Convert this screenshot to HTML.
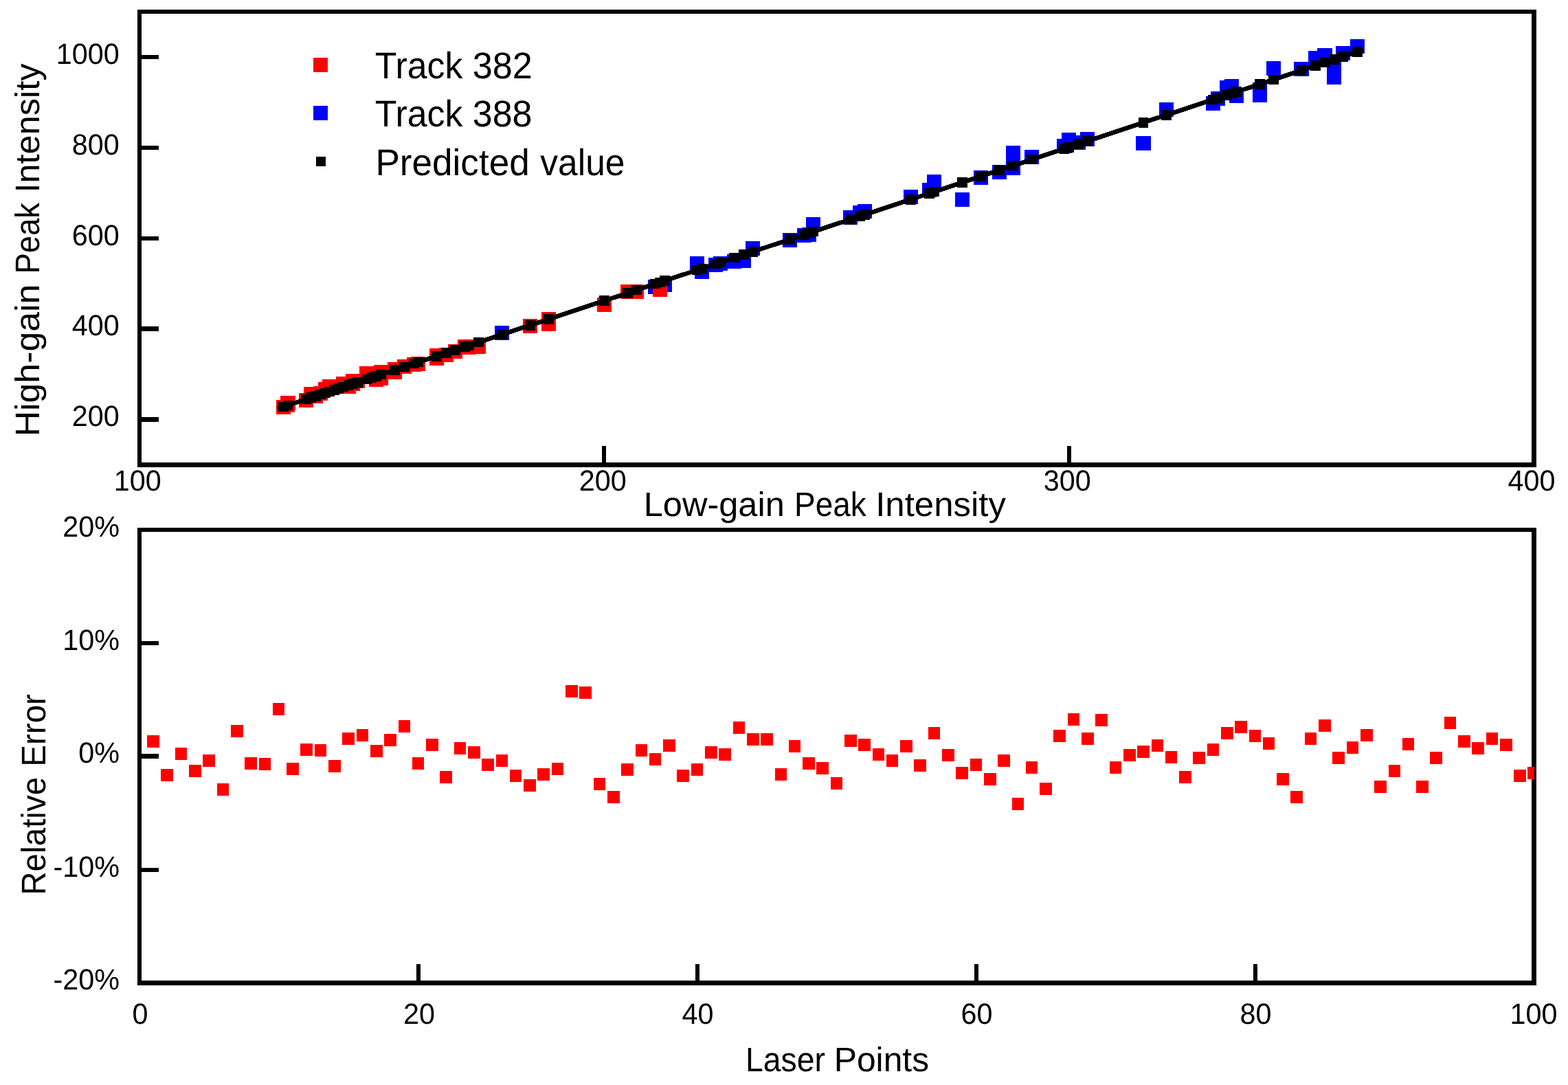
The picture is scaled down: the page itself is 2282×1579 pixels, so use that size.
<!DOCTYPE html>
<html lang="en"><head><meta charset="utf-8"><title>Low-gain vs High-gain Peak Intensity</title>
<style>html,body{margin:0;padding:0;background:#fff}body{width:2282px;height:1579px;overflow:hidden}svg{display:block}text{font-family:"Liberation Sans",sans-serif;fill:#000;text-rendering:geometricPrecision}</style>
</head><body>
<svg xmlns="http://www.w3.org/2000/svg" width="2282" height="1579" viewBox="0 0 2282 1579">
<rect x="0" y="0" width="2282" height="1579" fill="#fff"/>
<g id="top-plot">
<g shape-rendering="crispEdges" fill="#0000ff">
<rect x="720" y="474" width="21" height="21"/>
<rect x="943" y="407" width="21" height="21"/>
<rect x="957" y="404" width="21" height="21"/>
<rect x="1004" y="373" width="21" height="21"/>
<rect x="1011" y="385" width="21" height="21"/>
<rect x="1031" y="375" width="21" height="21"/>
<rect x="1038" y="373" width="21" height="21"/>
<rect x="1058" y="370" width="21" height="21"/>
<rect x="1072" y="369" width="21" height="21"/>
<rect x="1085" y="351" width="21" height="21"/>
<rect x="1139" y="339" width="21" height="21"/>
<rect x="1160" y="332" width="21" height="21"/>
<rect x="1167" y="331" width="21" height="21"/>
<rect x="1173" y="316" width="21" height="21"/>
<rect x="1227" y="306" width="21" height="21"/>
<rect x="1241" y="299" width="21" height="21"/>
<rect x="1248" y="297" width="21" height="21"/>
<rect x="1315" y="276" width="21" height="21"/>
<rect x="1342" y="266" width="21" height="21"/>
<rect x="1349" y="254" width="21" height="21"/>
<rect x="1390" y="280" width="21" height="21"/>
<rect x="1417" y="248" width="21" height="21"/>
<rect x="1444" y="240" width="21" height="21"/>
<rect x="1464" y="212" width="21" height="22"/>
<rect x="1464" y="234" width="21" height="21"/>
<rect x="1491" y="218" width="21" height="21"/>
<rect x="1538" y="202" width="22" height="21"/>
<rect x="1545" y="193" width="21" height="21"/>
<rect x="1559" y="197" width="21" height="21"/>
<rect x="1572" y="192" width="21" height="21"/>
<rect x="1653" y="198" width="22" height="21"/>
<rect x="1687" y="149" width="21" height="21"/>
<rect x="1755" y="140" width="21" height="21"/>
<rect x="1762" y="133" width="21" height="21"/>
<rect x="1775" y="117" width="21" height="21"/>
<rect x="1782" y="115" width="21" height="21"/>
<rect x="1789" y="129" width="21" height="21"/>
<rect x="1823" y="120" width="21" height="21"/>
<rect x="1823" y="128" width="21" height="21"/>
<rect x="1843" y="89" width="21" height="21"/>
<rect x="1883" y="90" width="22" height="21"/>
<rect x="1904" y="74" width="21" height="21"/>
<rect x="1917" y="70" width="22" height="21"/>
<rect x="1931" y="90" width="21" height="21"/>
<rect x="1931" y="102" width="21" height="21"/>
<rect x="1944" y="67" width="21" height="21"/>
<rect x="1965" y="57" width="21" height="21"/>
</g>
<g shape-rendering="crispEdges" fill="#ff0000">
<rect x="402" y="582" width="21" height="21"/>
<rect x="408" y="576" width="22" height="21"/>
<rect x="408" y="579" width="21" height="21"/>
<rect x="435" y="572" width="21" height="21"/>
<rect x="442" y="563" width="21" height="21"/>
<rect x="449" y="566" width="21" height="21"/>
<rect x="456" y="562" width="21" height="21"/>
<rect x="463" y="556" width="21" height="21"/>
<rect x="469" y="552" width="21" height="21"/>
<rect x="489" y="548" width="21" height="21"/>
<rect x="497" y="552" width="21" height="21"/>
<rect x="503" y="544" width="21" height="21"/>
<rect x="503" y="548" width="21" height="21"/>
<rect x="510" y="544" width="21" height="21"/>
<rect x="523" y="533" width="21" height="21"/>
<rect x="537" y="542" width="21" height="21"/>
<rect x="544" y="531" width="21" height="21"/>
<rect x="544" y="540" width="21" height="21"/>
<rect x="564" y="527" width="21" height="21"/>
<rect x="564" y="531" width="21" height="21"/>
<rect x="578" y="523" width="21" height="21"/>
<rect x="592" y="520" width="21" height="21"/>
<rect x="598" y="519" width="21" height="21"/>
<rect x="625" y="507" width="21" height="21"/>
<rect x="625" y="511" width="21" height="21"/>
<rect x="639" y="506" width="21" height="21"/>
<rect x="652" y="501" width="21" height="21"/>
<rect x="666" y="494" width="21" height="21"/>
<rect x="672" y="495" width="21" height="21"/>
<rect x="686" y="494" width="21" height="21"/>
<rect x="761" y="464" width="21" height="21"/>
<rect x="788" y="454" width="21" height="21"/>
<rect x="788" y="461" width="21" height="21"/>
<rect x="869" y="433" width="21" height="21"/>
<rect x="903" y="414" width="21" height="21"/>
<rect x="916" y="414" width="21" height="21"/>
<rect x="950" y="411" width="21" height="21"/>
</g>
<line x1="404" y1="594.78" x2="1984" y2="72.69" stroke="#000" stroke-width="6.6" shape-rendering="crispEdges"/>
<g shape-rendering="crispEdges" fill="#000">
<rect x="405.15" y="584.75" width="14.5" height="14.5"/>
<rect x="411.75" y="582.57" width="14.5" height="14.5"/>
<rect x="438.35" y="573.78" width="14.5" height="14.5"/>
<rect x="445.35" y="571.47" width="14.5" height="14.5"/>
<rect x="452.15" y="569.22" width="14.5" height="14.5"/>
<rect x="459.35" y="566.84" width="14.5" height="14.5"/>
<rect x="466.25" y="564.56" width="14.5" height="14.5"/>
<rect x="472.35" y="562.54" width="14.5" height="14.5"/>
<rect x="479.15" y="560.3" width="14.5" height="14.5"/>
<rect x="485.95" y="558.05" width="14.5" height="14.5"/>
<rect x="492.45" y="555.9" width="14.5" height="14.5"/>
<rect x="499.95" y="553.42" width="14.5" height="14.5"/>
<rect x="506.25" y="551.34" width="14.5" height="14.5"/>
<rect x="513.35" y="549" width="14.5" height="14.5"/>
<rect x="526.15" y="544.77" width="14.5" height="14.5"/>
<rect x="533.65" y="542.29" width="14.5" height="14.5"/>
<rect x="540.15" y="540.14" width="14.5" height="14.5"/>
<rect x="547.25" y="537.8" width="14.5" height="14.5"/>
<rect x="547.35" y="537.76" width="14.5" height="14.5"/>
<rect x="567.15" y="531.22" width="14.5" height="14.5"/>
<rect x="567.35" y="531.15" width="14.5" height="14.5"/>
<rect x="581.15" y="526.59" width="14.5" height="14.5"/>
<rect x="595.25" y="521.93" width="14.5" height="14.5"/>
<rect x="601.35" y="519.92" width="14.5" height="14.5"/>
<rect x="628.15" y="511.06" width="14.5" height="14.5"/>
<rect x="642.25" y="506.4" width="14.5" height="14.5"/>
<rect x="655.35" y="502.08" width="14.5" height="14.5"/>
<rect x="669.35" y="497.45" width="14.5" height="14.5"/>
<rect x="675.15" y="495.53" width="14.5" height="14.5"/>
<rect x="689.15" y="490.91" width="14.5" height="14.5"/>
<rect x="723.25" y="479.64" width="14.5" height="14.5"/>
<rect x="764.15" y="466.12" width="14.5" height="14.5"/>
<rect x="791.25" y="457.17" width="14.5" height="14.5"/>
<rect x="872.25" y="430.4" width="14.5" height="14.5"/>
<rect x="906.25" y="419.17" width="14.5" height="14.5"/>
<rect x="919.15" y="414.91" width="14.5" height="14.5"/>
<rect x="946.15" y="405.99" width="14.5" height="14.5"/>
<rect x="953.25" y="403.64" width="14.5" height="14.5"/>
<rect x="960.05" y="401.39" width="14.5" height="14.5"/>
<rect x="1007.35" y="385.76" width="14.5" height="14.5"/>
<rect x="1014.15" y="383.52" width="14.5" height="14.5"/>
<rect x="1034.35" y="376.84" width="14.5" height="14.5"/>
<rect x="1041.35" y="374.53" width="14.5" height="14.5"/>
<rect x="1061.35" y="367.92" width="14.5" height="14.5"/>
<rect x="1075.25" y="363.33" width="14.5" height="14.5"/>
<rect x="1088.25" y="359.03" width="14.5" height="14.5"/>
<rect x="1142.25" y="341.19" width="14.5" height="14.5"/>
<rect x="1163.25" y="334.25" width="14.5" height="14.5"/>
<rect x="1170.25" y="331.94" width="14.5" height="14.5"/>
<rect x="1176.25" y="329.95" width="14.5" height="14.5"/>
<rect x="1230.25" y="312.11" width="14.5" height="14.5"/>
<rect x="1244.35" y="307.45" width="14.5" height="14.5"/>
<rect x="1251.35" y="305.14" width="14.5" height="14.5"/>
<rect x="1318.25" y="283.03" width="14.5" height="14.5"/>
<rect x="1345.25" y="274.11" width="14.5" height="14.5"/>
<rect x="1352.25" y="271.8" width="14.5" height="14.5"/>
<rect x="1393.25" y="258.25" width="14.5" height="14.5"/>
<rect x="1420.35" y="249.29" width="14.5" height="14.5"/>
<rect x="1447.35" y="240.37" width="14.5" height="14.5"/>
<rect x="1467.25" y="233.8" width="14.5" height="14.5"/>
<rect x="1494.35" y="224.84" width="14.5" height="14.5"/>
<rect x="1541.75" y="209.18" width="14.5" height="14.5"/>
<rect x="1548.25" y="207.03" width="14.5" height="14.5"/>
<rect x="1562.25" y="202.41" width="14.5" height="14.5"/>
<rect x="1575.25" y="198.11" width="14.5" height="14.5"/>
<rect x="1656.75" y="171.18" width="14.5" height="14.5"/>
<rect x="1690.25" y="160.11" width="14.5" height="14.5"/>
<rect x="1758.25" y="137.64" width="14.5" height="14.5"/>
<rect x="1765.15" y="135.36" width="14.5" height="14.5"/>
<rect x="1778.25" y="131.03" width="14.5" height="14.5"/>
<rect x="1785.25" y="128.72" width="14.5" height="14.5"/>
<rect x="1792.25" y="126.41" width="14.5" height="14.5"/>
<rect x="1826.25" y="115.17" width="14.5" height="14.5"/>
<rect x="1846.25" y="108.56" width="14.5" height="14.5"/>
<rect x="1886.75" y="95.18" width="14.5" height="14.5"/>
<rect x="1907.15" y="88.44" width="14.5" height="14.5"/>
<rect x="1920.75" y="83.95" width="14.5" height="14.5"/>
<rect x="1934.25" y="79.48" width="14.5" height="14.5"/>
<rect x="1947.25" y="75.19" width="14.5" height="14.5"/>
<rect x="1968.25" y="68.25" width="14.5" height="14.5"/>
</g>
<g shape-rendering="crispEdges">
<rect x="200" y="14" width="2036" height="6" fill="#000"/>
<rect x="200" y="673" width="2036" height="7" fill="#000"/>
<rect x="200" y="14" width="6" height="666" fill="#000"/>
<rect x="2229" y="14" width="7" height="666" fill="#000"/>
<rect x="206" y="80" width="25" height="6" fill="#000"/>
<rect x="206" y="212" width="25" height="6" fill="#000"/>
<rect x="206" y="344" width="25" height="6" fill="#000"/>
<rect x="206" y="475" width="25" height="7" fill="#000"/>
<rect x="206" y="607" width="25" height="7" fill="#000"/>
<rect x="876" y="649" width="6" height="24" fill="#000"/>
<rect x="1553" y="649" width="6" height="24" fill="#000"/>
</g>
<rect x="456" y="84" width="21" height="21" fill="#ff0000"/>
<rect x="456" y="154" width="21" height="21" fill="#0000ff"/>
<rect x="460" y="228" width="14" height="14" fill="#000"/>
</g>
<g id="top-text">
<text y="113.9" font-size="54.2"><tspan x="545.66" textLength="127.69" lengthAdjust="spacingAndGlyphs">Track</tspan> <tspan x="687.72" textLength="87.12" lengthAdjust="spacingAndGlyphs">382</tspan></text>
<text y="184" font-size="54.2"><tspan x="545.66" textLength="127.69" lengthAdjust="spacingAndGlyphs">Track</tspan> <tspan x="687.72" textLength="86.79" lengthAdjust="spacingAndGlyphs">388</tspan></text>
<text y="254.6" font-size="54.2"><tspan x="546.45" textLength="224.28" lengthAdjust="spacingAndGlyphs">Predicted</tspan> <tspan x="786.29" textLength="123.21" lengthAdjust="spacingAndGlyphs">value</tspan></text>
<text transform="translate(81.8 92.6) scale(0.9730 1)" font-size="42.5">1000</text>
<text transform="translate(104.8 224.6) scale(0.9730 1)" font-size="42.5">800</text>
<text transform="translate(104.8 356.6) scale(0.9730 1)" font-size="42.5">600</text>
<text transform="translate(104.8 488.1) scale(0.9730 1)" font-size="42.5">400</text>
<text transform="translate(104.8 620.1) scale(0.9730 1)" font-size="42.5">200</text>
<text transform="translate(165.7 713.6) scale(0.9730 1)" font-size="42.5">100</text>
<text transform="translate(842.7 713.6) scale(0.9730 1)" font-size="42.5">200</text>
<text transform="translate(1518.8 713.6) scale(0.9730 1)" font-size="42.5">300</text>
<text transform="translate(2194.6 713.6) scale(0.9730 1)" font-size="42.5">400</text>
<text y="750.9" font-size="49.6"><tspan x="936.65" textLength="205.19" lengthAdjust="spacingAndGlyphs">Low-gain</tspan> <tspan x="1156.04" textLength="104.63" lengthAdjust="spacingAndGlyphs">Peak</tspan> <tspan x="1274.21" textLength="189.7" lengthAdjust="spacingAndGlyphs">Intensity</tspan></text>
<text transform="translate(57.2 631.1) rotate(-90)" font-size="49.6"><tspan x="-4.25" textLength="221.67" lengthAdjust="spacingAndGlyphs">High-gain</tspan> <tspan x="232.57" textLength="103.6" lengthAdjust="spacingAndGlyphs">Peak</tspan> <tspan x="350.55" textLength="188.05" lengthAdjust="spacingAndGlyphs">Intensity</tspan></text>
</g>
<g id="bottom-plot">
<g shape-rendering="crispEdges">
<rect x="200" y="768" width="2036" height="6" fill="#000"/>
<rect x="200" y="1427" width="2036" height="7" fill="#000"/>
<rect x="200" y="768" width="6" height="666" fill="#000"/>
<rect x="2229" y="768" width="7" height="666" fill="#000"/>
<rect x="206" y="933" width="25" height="6" fill="#000"/>
<rect x="206" y="1097" width="25" height="7" fill="#000"/>
<rect x="206" y="1263" width="25" height="6" fill="#000"/>
<rect x="606" y="1403" width="6" height="24" fill="#000"/>
<rect x="1012" y="1403" width="6" height="24" fill="#000"/>
<rect x="1418" y="1403" width="6" height="24" fill="#000"/>
<rect x="1824" y="1403" width="6" height="24" fill="#000"/>
</g>
<g shape-rendering="crispEdges" fill="#ff0000">
<rect x="214.2" y="1070" width="17.6" height="17.6"/>
<rect x="234.49" y="1119" width="17.6" height="17.6"/>
<rect x="254.79" y="1088" width="17.6" height="17.6"/>
<rect x="275.08" y="1113" width="17.6" height="17.6"/>
<rect x="295.38" y="1098" width="17.6" height="17.6"/>
<rect x="315.68" y="1140" width="17.6" height="17.6"/>
<rect x="335.97" y="1055" width="17.6" height="17.6"/>
<rect x="356.27" y="1102" width="17.6" height="17.6"/>
<rect x="376.56" y="1103" width="17.6" height="17.6"/>
<rect x="396.86" y="1023" width="17.6" height="17.6"/>
<rect x="417.16" y="1110" width="17.6" height="17.6"/>
<rect x="437.45" y="1082" width="17.6" height="17.6"/>
<rect x="457.75" y="1083" width="17.6" height="17.6"/>
<rect x="478.04" y="1106" width="17.6" height="17.6"/>
<rect x="498.34" y="1066" width="17.6" height="17.6"/>
<rect x="518.64" y="1061" width="17.6" height="17.6"/>
<rect x="538.93" y="1084" width="17.6" height="17.6"/>
<rect x="559.23" y="1068" width="17.6" height="17.6"/>
<rect x="579.52" y="1048" width="17.6" height="17.6"/>
<rect x="599.82" y="1102" width="17.6" height="17.6"/>
<rect x="620.12" y="1075" width="17.6" height="17.6"/>
<rect x="640.41" y="1122" width="17.6" height="17.6"/>
<rect x="660.71" y="1080" width="17.6" height="17.6"/>
<rect x="681" y="1086" width="17.6" height="17.6"/>
<rect x="701.3" y="1104" width="17.6" height="17.6"/>
<rect x="721.6" y="1098" width="17.6" height="17.6"/>
<rect x="741.89" y="1120" width="17.6" height="17.6"/>
<rect x="762.19" y="1134" width="17.6" height="17.6"/>
<rect x="782.48" y="1118" width="17.6" height="17.6"/>
<rect x="802.78" y="1110" width="17.6" height="17.6"/>
<rect x="823.08" y="997" width="17.6" height="17.6"/>
<rect x="843.37" y="999" width="17.6" height="17.6"/>
<rect x="863.67" y="1132" width="17.6" height="17.6"/>
<rect x="883.96" y="1151" width="17.6" height="17.6"/>
<rect x="904.26" y="1111" width="17.6" height="17.6"/>
<rect x="924.56" y="1083" width="17.6" height="17.6"/>
<rect x="944.85" y="1096" width="17.6" height="17.6"/>
<rect x="965.15" y="1076" width="17.6" height="17.6"/>
<rect x="985.44" y="1120" width="17.6" height="17.6"/>
<rect x="1005.74" y="1111" width="17.6" height="17.6"/>
<rect x="1026.04" y="1086" width="17.6" height="17.6"/>
<rect x="1046.33" y="1089" width="17.6" height="17.6"/>
<rect x="1066.63" y="1050" width="17.6" height="17.6"/>
<rect x="1086.92" y="1067" width="17.6" height="17.6"/>
<rect x="1107.22" y="1067" width="17.6" height="17.6"/>
<rect x="1127.52" y="1118" width="17.6" height="17.6"/>
<rect x="1147.81" y="1077" width="17.6" height="17.6"/>
<rect x="1168.11" y="1102" width="17.6" height="17.6"/>
<rect x="1188.4" y="1109" width="17.6" height="17.6"/>
<rect x="1208.7" y="1131" width="17.6" height="17.6"/>
<rect x="1229" y="1069" width="17.6" height="17.6"/>
<rect x="1249.29" y="1075" width="17.6" height="17.6"/>
<rect x="1269.59" y="1089" width="17.6" height="17.6"/>
<rect x="1289.88" y="1098" width="17.6" height="17.6"/>
<rect x="1310.18" y="1077" width="17.6" height="17.6"/>
<rect x="1330.48" y="1105" width="17.6" height="17.6"/>
<rect x="1350.77" y="1058" width="17.6" height="17.6"/>
<rect x="1371.07" y="1090" width="17.6" height="17.6"/>
<rect x="1391.36" y="1116" width="17.6" height="17.6"/>
<rect x="1411.66" y="1104" width="17.6" height="17.6"/>
<rect x="1431.96" y="1125" width="17.6" height="17.6"/>
<rect x="1452.25" y="1098" width="17.6" height="17.6"/>
<rect x="1472.55" y="1161" width="17.6" height="17.6"/>
<rect x="1492.84" y="1108" width="17.6" height="17.6"/>
<rect x="1513.14" y="1139" width="17.6" height="17.6"/>
<rect x="1533.44" y="1062" width="17.6" height="17.6"/>
<rect x="1553.73" y="1038" width="17.6" height="17.6"/>
<rect x="1574.03" y="1066" width="17.6" height="17.6"/>
<rect x="1594.32" y="1039" width="17.6" height="17.6"/>
<rect x="1614.62" y="1108" width="17.6" height="17.6"/>
<rect x="1634.92" y="1090" width="17.6" height="17.6"/>
<rect x="1655.21" y="1085" width="17.6" height="17.6"/>
<rect x="1675.51" y="1076" width="17.6" height="17.6"/>
<rect x="1695.8" y="1093" width="17.6" height="17.6"/>
<rect x="1716.1" y="1122" width="17.6" height="17.6"/>
<rect x="1736.4" y="1094" width="17.6" height="17.6"/>
<rect x="1756.69" y="1082" width="17.6" height="17.6"/>
<rect x="1776.99" y="1058" width="17.6" height="17.6"/>
<rect x="1797.28" y="1049" width="17.6" height="17.6"/>
<rect x="1817.58" y="1062" width="17.6" height="17.6"/>
<rect x="1837.88" y="1073" width="17.6" height="17.6"/>
<rect x="1858.17" y="1125" width="17.6" height="17.6"/>
<rect x="1878.47" y="1151" width="17.6" height="17.6"/>
<rect x="1898.76" y="1066" width="17.6" height="17.6"/>
<rect x="1919.06" y="1047" width="17.6" height="17.6"/>
<rect x="1939.36" y="1094" width="17.6" height="17.6"/>
<rect x="1959.65" y="1079" width="17.6" height="17.6"/>
<rect x="1979.95" y="1061" width="17.6" height="17.6"/>
<rect x="2000.24" y="1136" width="17.6" height="17.6"/>
<rect x="2020.54" y="1113" width="17.6" height="17.6"/>
<rect x="2040.84" y="1074" width="17.6" height="17.6"/>
<rect x="2061.13" y="1136" width="17.6" height="17.6"/>
<rect x="2081.43" y="1094" width="17.6" height="17.6"/>
<rect x="2101.72" y="1043" width="17.6" height="17.6"/>
<rect x="2122.02" y="1070" width="17.6" height="17.6"/>
<rect x="2142.32" y="1080" width="17.6" height="17.6"/>
<rect x="2162.61" y="1066" width="17.6" height="17.6"/>
<rect x="2182.91" y="1075" width="17.6" height="17.6"/>
<rect x="2203.2" y="1120" width="17.6" height="17.6"/>
<rect x="2223" y="1116" width="10" height="17.6"/>
</g>
</g>
<g id="bottom-text">
<text transform="translate(91.2 780.6) scale(0.9730 1)" font-size="42.5">20%</text>
<text transform="translate(91.2 945.6) scale(0.9730 1)" font-size="42.5">10%</text>
<text transform="translate(114.19 1110.1) scale(0.9730 1)" font-size="42.5">0%</text>
<text transform="translate(77.39 1275.6) scale(0.9730 1)" font-size="42.5">-10%</text>
<text transform="translate(77.39 1440.1) scale(0.9730 1)" font-size="42.5">-20%</text>
<text transform="translate(192.48 1489.6) scale(0.9730 1)" font-size="42.5">0</text>
<text transform="translate(586.99 1489.6) scale(0.9730 1)" font-size="42.5">20</text>
<text transform="translate(992.59 1489.6) scale(0.9730 1)" font-size="42.5">40</text>
<text transform="translate(1398.59 1489.6) scale(0.9730 1)" font-size="42.5">60</text>
<text transform="translate(1804.59 1489.6) scale(0.9730 1)" font-size="42.5">80</text>
<text transform="translate(2197.6 1489.6) scale(0.9730 1)" font-size="42.5">100</text>
<text y="1558.6" font-size="49.6"><tspan x="1084.89" textLength="116.12" lengthAdjust="spacingAndGlyphs">Laser</tspan> <tspan x="1213.72" textLength="138.34" lengthAdjust="spacingAndGlyphs">Points</tspan></text>
<text transform="translate(66.06 1298.9) rotate(-90)" font-size="49.6"><tspan x="-3.9" textLength="172.04" lengthAdjust="spacingAndGlyphs">Relative</tspan> <tspan x="183.1" textLength="105.77" lengthAdjust="spacingAndGlyphs">Error</tspan></text>
</g>
</svg></body></html>
